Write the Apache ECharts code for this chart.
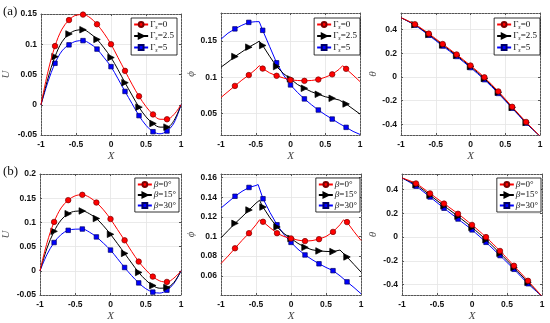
<!DOCTYPE html>
<html><head><meta charset="utf-8">
<script src="https://cdn.jsdelivr.net/npm/echarts@6/dist/echarts.min.js"></script>
<style>html,body{margin:0;padding:0;background:#fff}#c{width:550px;height:323px}</style>
</head><body><div id="c"></div>
<script>
// ---------- data ----------
const markerX = [-0.8, -0.6, -0.4, -0.2, 0, 0.2, 0.4, 0.6, 0.8];
const legendTop = ['Γs=0', 'Γs=2.5', 'Γs=5'];
const legendBottom = ['β=0°', 'β=15°', 'β=30°'];
const xTicks = [-1, -0.5, 0, 0.5, 1];

// U panels (dense X grid)
const Xu = [-1, -0.9, -0.8, -0.7, -0.6, -0.5, -0.4, -0.3, -0.2, -0.1, 0, 0.1, 0.2, 0.3, 0.4, 0.5, 0.6, 0.7, 0.8, 0.9, 1];
const uTop0 = [0, 0.055, 0.097, 0.125, 0.140, 0.148, 0.149, 0.144, 0.133, 0.118, 0.100, 0.078, 0.056, 0.034, 0.014, -0.003, -0.016, -0.024, -0.024, -0.016, 0];
const uTop25 = [0, 0.044, 0.0795, 0.104, 0.117, 0.123, 0.124, 0.118, 0.108, 0.094, 0.078, 0.058, 0.0365, 0.016, -0.004, -0.020, -0.031, -0.037, -0.037, -0.026, 0];
const uTop5 = [0, 0.038, 0.0685, 0.089, 0.099, 0.105, 0.106, 0.101, 0.092, 0.078, 0.063, 0.043, 0.022, 0.002, -0.018, -0.034, -0.0445, -0.048, -0.0434, -0.030, 0];
const uBot0 = [0, 0.058, 0.101, 0.130, 0.146, 0.155, 0.157, 0.152, 0.141, 0.126, 0.107, 0.085, 0.063, 0.040, 0.019, 0.002, -0.012, -0.021, -0.023, -0.015, 0];
const uBot15 = [0, 0.047, 0.0815, 0.105, 0.118, 0.123, 0.1236, 0.118, 0.108, 0.093, 0.0754, 0.056, 0.036, 0.016, -0.0034, -0.019, -0.0306, -0.036, -0.0346, -0.024, 0];
const uBot30 = [0, 0.034, 0.0584, 0.075, 0.0836, 0.086, 0.0863, 0.080, 0.070, 0.057, 0.0428, 0.025, 0.0068, -0.010, -0.025, -0.037, -0.044, -0.046, -0.040, -0.026, 0];
const yTicksU1 = [-0.05, 0, 0.05, 0.1, 0.15];
const yTicksU2 = [-0.05, 0, 0.05, 0.1, 0.15, 0.2];

// phi panels
const xPhiTop0 = [-1, -0.9, -0.8, -0.7, -0.6, -0.5, -0.45, -0.4, -0.3, -0.2, -0.1, 0, 0.1, 0.2, 0.3, 0.4, 0.5, 0.6, 0.7, 0.75, 0.8, 0.9, 1];
const phiTop0 = [0.072, 0.080, 0.088, 0.096, 0.103, 0.111, 0.116, 0.112, 0.106, 0.102, 0.099, 0.0963, 0.0955, 0.095, 0.0955, 0.0968, 0.100, 0.104, 0.111, 0.116, 0.1116, 0.103, 0.094];
const xPhiTop25 = [-1, -0.9, -0.8, -0.7, -0.6, -0.5, -0.45, -0.4, -0.3, -0.2, -0.1, 0, 0.1, 0.2, 0.3, 0.4, 0.5, 0.6, 0.7, 0.8, 0.9, 1];
const phiTop25 = [0.114, 0.121, 0.1287, 0.135, 0.1417, 0.147, 0.150, 0.144, 0.129, 0.1148, 0.105, 0.0977, 0.090, 0.0847, 0.080, 0.0764, 0.073, 0.0708, 0.0685, 0.063, 0.056, 0.049];
const xPhiTop5 = [-1, -0.9, -0.8, -0.7, -0.6, -0.5, -0.45, -0.4, -0.3, -0.2, -0.1, 0, 0.1, 0.2, 0.3, 0.4, 0.5, 0.6, 0.7, 0.8, 0.9, 1];
const phiTop5 = [0.1528, 0.161, 0.167, 0.172, 0.176, 0.177, 0.177, 0.165, 0.1425, 0.120, 0.103, 0.0894, 0.079, 0.070, 0.062, 0.0546, 0.048, 0.0421, 0.036, 0.0306, 0.025, 0.0208];
const xPhiBot0 = [-1, -0.9, -0.8, -0.7, -0.6, -0.5, -0.45, -0.4, -0.3, -0.2, -0.1, 0, 0.1, 0.2, 0.3, 0.4, 0.5, 0.6, 0.7, 0.75, 0.8, 0.9, 1];
const phiBot0 = [0.0725, 0.080, 0.088, 0.096, 0.1034, 0.112, 0.117, 0.115, 0.109, 0.1034, 0.100, 0.098, 0.0963, 0.0953, 0.0958, 0.0973, 0.100, 0.1047, 0.112, 0.117, 0.1147, 0.105, 0.096];
const xPhiBot15 = [-1, -0.9, -0.8, -0.7, -0.6, -0.5, -0.45, -0.4, -0.3, -0.2, -0.1, 0, 0.1, 0.2, 0.3, 0.4, 0.5, 0.6, 0.7, 0.72, 0.8, 0.9, 1];
const phiBot15 = [0.0987, 0.106, 0.1134, 0.120, 0.127, 0.134, 0.1369, 0.130, 0.119, 0.1097, 0.103, 0.098, 0.093, 0.089, 0.0865, 0.0853, 0.0848, 0.0846, 0.0862, 0.0866, 0.0792, 0.0715, 0.0638];
const xPhiBot30 = [-1, -0.9, -0.8, -0.7, -0.6, -0.5, -0.47, -0.4, -0.3, -0.2, -0.1, 0, 0.1, 0.2, 0.3, 0.4, 0.5, 0.6, 0.7, 0.8, 0.9, 1];
const phiBot30 = [0.129, 0.135, 0.141, 0.146, 0.150, 0.152, 0.153, 0.1385, 0.1245, 0.112, 0.102, 0.094, 0.087, 0.0812, 0.0765, 0.0722, 0.0685, 0.0652, 0.060, 0.0538, 0.048, 0.0417];
const yTicksPhi1 = [0.05, 0.1, 0.15];
const yTicksPhi2 = [0.04, 0.06, 0.08, 0.1, 0.12, 0.14, 0.16];

// theta panels
const Xt = [-1, -0.8, -0.6, -0.4, -0.2, 0, 0.2, 0.4, 0.6, 0.8, 1];
const thTop0 = [0.5, 0.445, 0.366, 0.278, 0.190, 0.0965, -0.003, -0.122, -0.252, -0.380, -0.5];
const thTop25 = [0.5, 0.441, 0.359, 0.270, 0.182, 0.088, -0.013, -0.130, -0.258, -0.385, -0.5];
const thTop5 = [0.5, 0.437, 0.352, 0.261, 0.173, 0.079, -0.023, -0.139, -0.264, -0.390, -0.5];
const thBot0 = [0.5, 0.453, 0.369, 0.283, 0.197, 0.103, 0.0, -0.117, -0.242, -0.369, -0.5];
const thBot15 = [0.5, 0.442, 0.354, 0.264, 0.176, 0.082, -0.022, -0.137, -0.257, -0.382, -0.5];
const thBot30 = [0.5, 0.430, 0.339, 0.244, 0.153, 0.061, -0.044, -0.156, -0.272, -0.394, -0.5];
const yTicksTh = [-0.4, -0.2, 0, 0.2, 0.4];

// ---------- layout / styles ----------
const grids = [
  {left: 41, top: 14, width: 140, height: 121},
  {left: 221, top: 13, width: 139, height: 122},
  {left: 401, top: 13, width: 139, height: 122},
  {left: 39, top: 174, width: 142, height: 123},
  {left: 221, top: 174, width: 140, height: 123},
  {left: 402, top: 174, width: 140, height: 123}
];
const yRanges = [[-0.05, 0.15], [0.02, 0.189], [-0.49, 0.54], [-0.05, 0.2], [0.0404, 0.1637], [-0.489, 0.533]];
const yTickSets = [yTicksU1, yTicksPhi1, yTicksTh, yTicksU2, yTicksPhi2, yTicksTh];
const yNames = ['U', 'ϕ', 'θ', 'U', 'ϕ', 'θ'];
const yNameGaps = [29, 21, 22, 28, 20, 23];
const styles = [
  {color: '#ff0000', edge: '#7a0000', symbol: 'circle', size: 5.5, rotate: 0},
  {color: '#000000', edge: '#000000', symbol: 'triangle', size: 6.5, rotate: -90},
  {color: '#0000ff', edge: '#000066', symbol: 'rect', size: 4.5, rotate: 0}
];
const AXC = '#555';
const FONT = 'Liberation Sans, Arial, sans-serif';
const SERIF = 'Liberation Serif, Times New Roman, serif';

const xAxes = [], yAxes = [], series = [], legends = [];
grids.forEach((g, i) => {
  const lineStyle = {color: AXC, width: 1, type: [2, 1]};
  xAxes.push({
    gridIndex: i, type: 'value', min: -1, max: 1, interval: 0.5, position: 'bottom',
    axisLine: {show: true, onZero: false, lineStyle},
    axisTick: {show: true, inside: true, length: 2, lineStyle: {color: AXC}},
    axisLabel: {color: '#111', fontSize: 8.5, fontWeight: 'bold', fontFamily: FONT, margin: 5,
      formatter: v => String(v)},
    splitLine: {show: true, lineStyle: {color: '#e4e4e4', width: 0.8}},
    name: 'X', nameLocation: 'middle', nameGap: 16,
    nameTextStyle: {fontFamily: SERIF, fontStyle: 'italic', fontSize: 11, color: '#444'}
  });
  xAxes.push({
    gridIndex: i, type: 'value', min: -1, max: 1, interval: 0.5, position: 'top',
    axisLine: {show: true, onZero: false, lineStyle},
    axisTick: {show: true, inside: true, length: 2, lineStyle: {color: AXC}},
    axisLabel: {show: false}, splitLine: {show: false}
  });
  const yt = yTickSets[i];
  yAxes.push({
    gridIndex: i, type: 'value', min: yRanges[i][0], max: yRanges[i][1], position: 'left',
    axisLine: {show: true, onZero: false, lineStyle},
    axisTick: {show: true, inside: true, length: 2, lineStyle: {color: AXC}, customValues: yt},
    axisLabel: {color: '#111', fontSize: 8.5, fontWeight: 'bold', fontFamily: FONT, margin: 4, customValues: yt,
      formatter: v => String(+v.toFixed(4))},
    splitLine: {show: true, lineStyle: {color: '#e4e4e4', width: 0.8}},
    name: yNames[i], nameLocation: 'middle', nameGap: yNameGaps[i], nameRotate: 90,
    nameTextStyle: {fontFamily: SERIF, fontStyle: 'italic', fontSize: 11, color: '#555'}
  });
  yAxes.push({
    gridIndex: i, type: 'value', min: yRanges[i][0], max: yRanges[i][1], position: 'right',
    axisLine: {show: true, onZero: false, lineStyle},
    axisTick: {show: true, inside: true, length: 2, lineStyle: {color: AXC}, customValues: yt},
    axisLabel: {show: false, customValues: yt}, splitLine: {show: false}
  });
});

function isMarker(x) { return markerX.some(m => Math.abs(m - x) < 1e-6); }
function addSeries(gi, k, name, xs, ys, smooth) {
  const s = styles[k];
  series.push({
    type: 'line', name, xAxisIndex: gi * 2, yAxisIndex: gi * 2,
    smooth: smooth, symbol: s.symbol, symbolSize: s.size, symbolRotate: s.rotate,
    data: xs.map((x, j) => isMarker(x) ? {value: [x, ys[j]]} : {value: [x, ys[j]], symbol: 'none'}),
    lineStyle: {color: s.color, width: 1},
    itemStyle: {color: s.color, borderColor: s.edge, borderWidth: 0.7, opacity: 1},
    z: 3 + (2 - k), animation: false, clip: true
  });
}
addSeries(0, 0, legendTop[0], Xu, uTop0, 0.35);
addSeries(0, 1, legendTop[1], Xu, uTop25, 0.35);
addSeries(0, 2, legendTop[2], Xu, uTop5, 0.35);
addSeries(1, 0, legendTop[0], xPhiTop0, phiTop0, false);
addSeries(1, 1, legendTop[1], xPhiTop25, phiTop25, false);
addSeries(1, 2, legendTop[2], xPhiTop5, phiTop5, false);
addSeries(2, 0, legendTop[0], Xt, thTop0, 0.3);
addSeries(2, 1, legendTop[1], Xt, thTop25, 0.3);
addSeries(2, 2, legendTop[2], Xt, thTop5, 0.3);
addSeries(3, 0, legendBottom[0], Xu, uBot0, 0.35);
addSeries(3, 1, legendBottom[1], Xu, uBot15, 0.35);
addSeries(3, 2, legendBottom[2], Xu, uBot30, 0.35);
addSeries(4, 0, legendBottom[0], xPhiBot0, phiBot0, false);
addSeries(4, 1, legendBottom[1], xPhiBot15, phiBot15, false);
addSeries(4, 2, legendBottom[2], xPhiBot30, phiBot30, false);
addSeries(5, 0, legendBottom[0], Xt, thBot0, 0.3);
addSeries(5, 1, legendBottom[1], Xt, thBot15, 0.3);
addSeries(5, 2, legendBottom[2], Xt, thBot30, 0.3);

const rich = {
  g: {fontFamily: SERIF, fontSize: 9, color: '#111'},
  b: {fontFamily: SERIF, fontSize: 9, fontStyle: 'italic', color: '#111'},
  s: {fontFamily: SERIF, fontSize: 6, fontStyle: 'italic', color: '#111', padding: [5, 0, 0, 0]},
  t: {fontFamily: SERIF, fontSize: 9, color: '#111'}
};
const legendPos = [
  {right: 373, top: 18}, {right: 190, top: 18}, {right: 10, top: 18},
  {right: 371, top: 178}, {right: 190, top: 178}, {right: 9, top: 178}
];
legendPos.forEach((p, i) => {
  const top = i < 3;
  legends.push({
    data: top ? legendTop : legendBottom, right: p.right, top: p.top, orient: 'vertical',
    itemWidth: 14, itemHeight: 6, itemGap: 1.5, padding: [2, 3, 2, 2],
    backgroundColor: '#fff', borderColor: '#000', borderWidth: 0.8, borderRadius: 0,
    selectedMode: false,
    formatter: top
      ? (n => '{g|Γ}{s|s}{t|=' + n.split('=')[1] + '}')
      : (n => '{b|β}{t|=' + n.split('=')[1] + '}'),
    textStyle: {rich, padding: [0, 0, 0, -3]}
  });
});

const chart = echarts.init(document.getElementById('c'), null, {renderer: 'canvas'});
chart.setOption({
  backgroundColor: '#fff',
  animation: false,
  grid: grids,
  xAxis: xAxes,
  yAxis: yAxes,
  series,
  legend: legends,
  graphic: [
    {type: 'text', left: 3, top: 5, style: {text: '(a)', fontFamily: SERIF, fontSize: 13, fill: '#111'}},
    {type: 'text', left: 3, top: 165, style: {text: '(b)', fontFamily: SERIF, fontSize: 13, fill: '#111'}}
  ]
});
</script></body></html>
